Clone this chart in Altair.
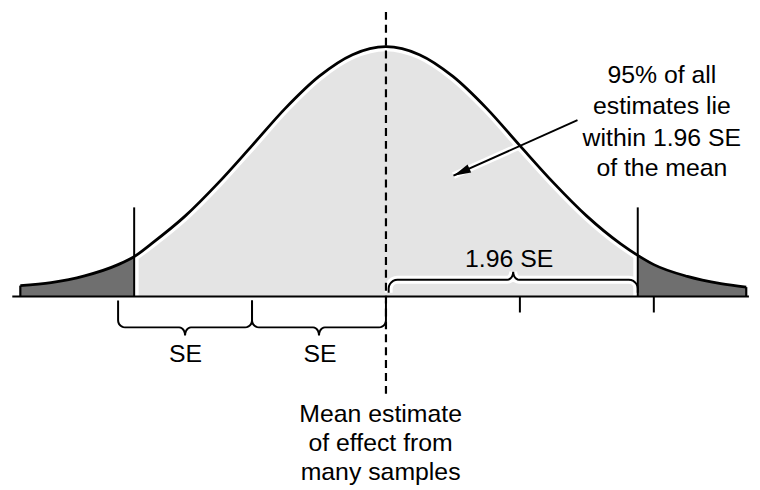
import altair as alt
import pandas as pd
import numpy as np

# ---- data (x in SE units, height relative to the peak) ----
curve_x = [-2.73, -2.5, -2.25, -2.0, -1.88, -1.75, -1.5, -1.25, -1.0, -0.75, -0.5, -0.25, 0.0,
           0.25, 0.5, 0.75, 1.0, 1.25, 1.5, 1.75, 1.88, 2.0, 2.25, 2.5, 2.69]
curve_y = [0.044, 0.056, 0.083, 0.128, 0.160, 0.212, 0.322, 0.456, 0.604, 0.754, 0.881, 0.968, 1.0,
           0.968, 0.881, 0.754, 0.604, 0.456, 0.322, 0.212, 0.165, 0.128, 0.081, 0.052, 0.038]
ci_limits = [-1.88, 1.88]          # drawn limits of the 95% interval
tick_positions = [1.0, 2.0]        # plain ticks under the axis
se_braces = [(-2.0, -1.0), (-1.0, 0.0)]
se_labels = ["SE", "SE"]
ci_brace = (0.02, 1.88)
ci_label = "1.96 SE"
right_lines = ["95% of all", "estimates lie", "within 1.96 SE", "of the mean"]
bottom_lines = ["Mean estimate", "of effect from", "many samples"]

# ---- scales ----
W, H = 750, 480
XS = alt.Scale(domain=[-2.822, 2.733], nice=False, zero=False)
YS = alt.Scale(domain=[-0.758, 1.147], nice=False, zero=False)
PX = W / (2.733 + 2.822)
PY = H / (1.147 + 0.758)
FONT = "Liberation Sans"
FS = 25


def X(f):
    return alt.X(f, type="quantitative", scale=XS, axis=None)


def Y(f):
    return alt.Y(f, type="quantitative", scale=YS, axis=None)


curve = pd.DataFrame({"x": curve_x, "y": curve_y})
curve["y0"] = 0.0
lo, hi = ci_limits
center = curve[(curve.x >= lo) & (curve.x <= hi)]
left_tail = curve[curve.x <= lo]
right_tail = curve[curve.x >= hi]


def brace(x0, x1, y_end, y_h, y_tip, rx, ry, mx, name):
    s = 1.0 if y_end > y_h else -1.0
    dt = abs(y_tip - y_h)
    xm = (x0 + x1) / 2
    pts = [(x0, y_end)]
    ts = np.linspace(0, np.pi / 2, 7)
    pts += [(x0 + rx - rx * np.cos(t), y_h + s * ry - s * ry * np.sin(t)) for t in ts]
    pts += [(xm - mx + mx * np.sin(t), y_h - s * dt * (1 - np.cos(t))) for t in ts]
    right = [(2 * xm - px, py) for px, py in pts[::-1]]
    allp = pts + right[1:]
    return pd.DataFrame({"x": [p[0] for p in allp], "y": [p[1] for p in allp],
                         "o": list(range(len(allp))), "b": name})


br = [brace(a, b, -4 / PY, -31 / PY, -39 / PY, 7 / PX, 7 / PY, 6 / PX, f"se{i}")
      for i, (a, b) in enumerate(se_braces)]
top_br = brace(ci_brace[0], ci_brace[1], 4 / PY, 17 / PY, 25 / PY, 9 / PX, 9 / PY, 6 / PX, "ci")
braces = pd.concat(br + [top_br])

light = alt.Chart(center).mark_area(color="#e4e4e4", interpolate="monotone").encode(
    x=X("x"), y=Y("y"), y2="y0")
halo_curve = alt.Chart(center).mark_line(color="white", strokeWidth=9, interpolate="monotone").encode(
    x=X("x"), y=Y("y"))

vlines = pd.DataFrame({"x": ci_limits, "y": [0.0, 0.0], "y2": [0.357, 0.357]})
halo_v = alt.Chart(vlines).mark_rule(color="white", strokeWidth=9).encode(
    x=X("x"), y=Y("y"), y2="y2")
halo_brace = alt.Chart(top_br).mark_line(color="white", strokeWidth=8).encode(
    x=X("x"), y=Y("y"), order="o:Q")

arrow = pd.DataFrame({"x": [1.43], "y": [0.706], "x2": [0.504], "y2": [0.484]})
halo_arrow = alt.Chart(arrow).mark_rule(color="white", strokeWidth=7).encode(
    x=X("x"), y=Y("y"), x2="x2", y2="y2")

tails = pd.concat([left_tail.assign(side="L"), right_tail.assign(side="R")])
dark = alt.Chart(tails).mark_area(color="#6f6f6f", interpolate="monotone").encode(
    x=X("x"), y=Y("y"), y2="y0", detail="side:N")

line = alt.Chart(curve).mark_line(color="black", strokeWidth=2.8, interpolate="monotone").encode(
    x=X("x"), y=Y("y"))
ends = pd.DataFrame({"x": [curve_x[0], curve_x[-1]], "y": [0.0, 0.0],
                     "y2": [curve_y[0], curve_y[-1]]})
end_rules = alt.Chart(ends).mark_rule(color="black", strokeWidth=2.2).encode(
    x=X("x"), y=Y("y"), y2="y2")

axis_df = pd.DataFrame({"x": [-2.79], "x2": [2.71], "y": [0.0]})
axis_line = alt.Chart(axis_df).mark_rule(color="black", strokeWidth=2).encode(
    x=X("x"), x2="x2", y=Y("y"))

v_rules = alt.Chart(vlines).mark_rule(color="black", strokeWidth=2).encode(
    x=X("x"), y=Y("y"), y2="y2")

ticks = pd.DataFrame({"x": tick_positions, "y": [0.0] * len(tick_positions),
                      "y2": [-16 / PY] * len(tick_positions)})
tick_rules = alt.Chart(ticks).mark_rule(color="black", strokeWidth=2).encode(
    x=X("x"), y=Y("y"), y2="y2")

dash = pd.DataFrame({"x": [0.0], "y": [1.139], "y2": [-0.409]})
dash_rule = alt.Chart(dash).mark_rule(color="black", strokeWidth=2.2, strokeDash=[8, 5]).encode(
    x=X("x"), y=Y("y"), y2="y2")

brace_lines = alt.Chart(braces).mark_line(color="black", strokeWidth=2).encode(
    x=X("x"), y=Y("y"), order="o:Q", detail="b:N")

arrow_rule = alt.Chart(arrow).mark_rule(color="black", strokeWidth=2).encode(
    x=X("x"), y=Y("y"), x2="x2", y2="y2")
head = alt.Chart(arrow).mark_point(shape="M0,0L0.55,2.2L-0.55,2.2Z", size=256, angle=245.8,
                                   filled=True, color="black", opacity=1, strokeWidth=0).encode(
    x=X("x2"), y=Y("y2"))

labels = pd.DataFrame({
    "x": [-1.496, -0.493, 0.92],
    "y": [-0.262, -0.262, 0.119],
    "t": se_labels + [ci_label],
})
label_text = alt.Chart(labels).mark_text(font=FONT, fontSize=FS, align="center",
                                         baseline="alphabetic", color="black").encode(
    x=X("x"), y=Y("y"), text="t:N")

rt = pd.DataFrame({"x": [2.06] * 4, "y": [0.853, 0.730, 0.603, 0.484], "t": right_lines})
right_text = alt.Chart(rt).mark_text(font=FONT, fontSize=FS, align="center",
                                     baseline="alphabetic", color="black").encode(
    x=X("x"), y=Y("y"), text="t:N")

bt = pd.DataFrame({"x": [-0.04] * 3, "y": [-0.5, -0.619, -0.734], "t": bottom_lines})
bottom_text = alt.Chart(bt).mark_text(font=FONT, fontSize=FS, align="center",
                                      baseline="alphabetic", color="black").encode(
    x=X("x"), y=Y("y"), text="t:N")

chart = alt.layer(
    light, halo_curve, halo_v, halo_brace, halo_arrow, dark, line, end_rules, axis_line,
    v_rules, tick_rules, dash_rule, brace_lines, arrow_rule, head, label_text, right_text,
    bottom_text,
).properties(width=W, height=H, padding=0, autosize=alt.AutoSizeParams(type="none"),
             background="white").configure_view(stroke=None)

chart.save("out.html", embed_options={"renderer": "svg", "actions": False})
